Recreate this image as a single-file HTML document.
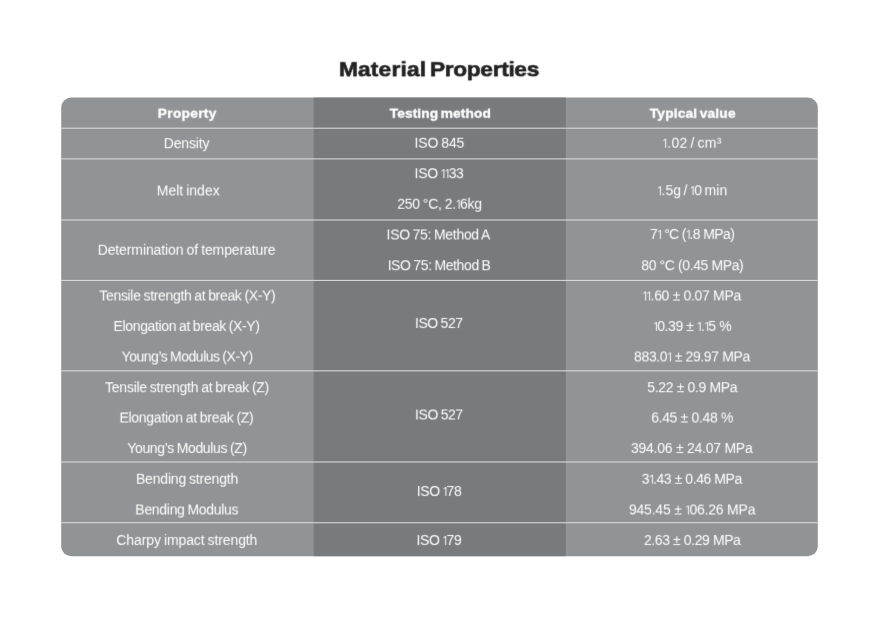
<!DOCTYPE html>
<html lang="en"><head><meta charset="utf-8"><title>Material Properties</title>
<style>
html,body{margin:0;padding:0;background:#fff;}
body{width:880px;height:618px;position:relative;overflow:hidden;font-family:"Liberation Sans", Arial, Helvetica, sans-serif;}
.bg{position:absolute;left:0;top:0;display:block;}
.t{position:absolute;white-space:nowrap;line-height:20px;margin:0;}
.title{font-size:21.0px;font-weight:700;color:#222222;-webkit-text-stroke:0.6px #222222;}
.head{font-size:13.7px;font-weight:700;color:#ffffff;-webkit-text-stroke:0.35px #ffffff;}
.cell{font-size:14.0px;font-weight:400;color:#ffffff;}
.cell i{font-style:normal;font-family:"NanumGothic","Liberation Sans",sans-serif;font-size:13.2px;margin:0 -2.45px 0 -1.25px;}
h1{margin:0;font-size:inherit;font-weight:inherit;}
table,thead,tbody,tr,th,td{display:contents;}
td br{display:none;}
.q0{filter:url(#f0);} .q1{filter:url(#f1);} .q2{filter:url(#f2);} .q3{filter:url(#f3);}
</style></head>
<body>
<svg class="bg" width="880" height="618" viewBox="0 0 880 618">
<rect x="61.2" y="97.6" width="756.60" height="458.60" rx="10" ry="10" fill="#909496"/>
<rect x="313.7" y="97.6" width="252.10" height="458.60" fill="#777b7e"/>
<line x1="61.2" x2="817.8" y1="128.2" y2="128.2" stroke="#e0e0e3" stroke-width="1.0"/>
<line x1="61.2" x2="817.8" y1="158.9" y2="158.9" stroke="#e0e0e3" stroke-width="1.0"/>
<line x1="61.2" x2="817.8" y1="220.0" y2="220.0" stroke="#e0e0e3" stroke-width="1.0"/>
<line x1="61.2" x2="817.8" y1="280.4" y2="280.4" stroke="#e0e0e3" stroke-width="1.0"/>
<line x1="61.2" x2="817.8" y1="370.85" y2="370.85" stroke="#e0e0e3" stroke-width="1.0"/>
<line x1="61.2" x2="817.8" y1="462.0" y2="462.0" stroke="#e0e0e3" stroke-width="1.0"/>
<line x1="61.2" x2="817.8" y1="522.75" y2="522.75" stroke="#e0e0e3" stroke-width="1.0"/>
<defs><filter id="f0" x="-2%" y="-20%" width="104%" height="140%" color-interpolation-filters="sRGB"><feConvolveMatrix order="3" kernelMatrix="0.0100 0.0800 0.0100 0.0800 0.6400 0.0800 0.0100 0.0800 0.0100" divisor="1" edgeMode="none" preserveAlpha="false"/></filter><filter id="f1" x="-2%" y="-20%" width="104%" height="140%" color-interpolation-filters="sRGB"><feConvolveMatrix order="3" kernelMatrix="0.0006 0.0048 0.0006 0.0738 0.5904 0.0738 0.0256 0.2048 0.0256" divisor="1" edgeMode="none" preserveAlpha="false"/></filter><filter id="f2" x="-2%" y="-20%" width="104%" height="140%" color-interpolation-filters="sRGB"><feConvolveMatrix order="3" kernelMatrix="0.0000 0.0000 0.0000 0.0500 0.4000 0.0500 0.0500 0.4000 0.0500" divisor="1" edgeMode="none" preserveAlpha="false"/></filter><filter id="f3" x="-2%" y="-20%" width="104%" height="140%" color-interpolation-filters="sRGB"><feConvolveMatrix order="3" kernelMatrix="0.0256 0.2048 0.0256 0.0738 0.5904 0.0738 0.0006 0.0048 0.0006" divisor="1" edgeMode="none" preserveAlpha="false"/></filter></defs>
</svg>
<h1><span class="t title q1" style="left:338.90px;top:59.00px;letter-spacing:0.169px;transform:scaleX(1.08);transform-origin:0 0">Material</span> <span class="t title q1" style="left:430.40px;top:59.00px;letter-spacing:-0.299px;transform:scaleX(1.08);transform-origin:0 0">Properties</span></h1>
<table>
<thead>
<tr><th><span class="t head q3" style="left:157.83px;top:104.00px;letter-spacing:0.304px;word-spacing:-1.5px">Property</span></th><th><span class="t head q3" style="left:389.67px;top:104.00px;letter-spacing:0.135px;word-spacing:-1.5px">Testing method</span></th><th><span class="t head q3" style="left:649.84px;top:104.00px;letter-spacing:0.187px;word-spacing:-1.5px">Typical value</span></th></tr>
</thead>
<tbody>
<tr>
<td><span class="t cell q1" style="left:163.74px;top:133.00px;letter-spacing:-0.143px;word-spacing:-0.7px">Density</span></td>
<td><span class="t cell q3" style="left:414.55px;top:133.00px;letter-spacing:-0.138px;word-spacing:-0.7px">ISO 845</span></td>
<td><span class="t cell q3" style="left:662.59px;top:133.00px;letter-spacing:0.351px;word-spacing:-1.5px"><i>1</i>.02 / cm³</span></td>
</tr>
<tr>
<td><span class="t cell q2" style="left:156.82px;top:180.00px;letter-spacing:-0.032px;word-spacing:-0.7px">Melt index</span></td>
<td><span class="t cell q1" style="left:414.57px;top:163.00px;letter-spacing:-0.309px;word-spacing:-0.7px">ISO <i>1</i><i>1</i>33</span><br><span class="t cell q3" style="left:397.24px;top:194.00px;letter-spacing:-0.234px;word-spacing:-0.7px">250 °C, 2.<i>1</i>6kg</span></td>
<td><span class="t cell q1" style="left:657.13px;top:180.00px;letter-spacing:0.052px;word-spacing:-1.5px"><i>1</i>.5g / <i>1</i>0 min</span></td>
</tr>
<tr>
<td><span class="t cell q3" style="left:97.64px;top:240.00px;letter-spacing:-0.100px;word-spacing:-0.7px">Determination of temperature</span></td>
<td><span class="t cell q2" style="left:386.57px;top:224.00px;letter-spacing:-0.313px;word-spacing:-0.7px">ISO 75: Method A</span><br><span class="t cell q1" style="left:387.64px;top:255.00px;letter-spacing:-0.392px;word-spacing:-0.7px">ISO 75: Method B</span></td>
<td><span class="t cell q0" style="left:650.03px;top:224.00px;letter-spacing:-0.625px">7<i>1</i> °C (<i>1</i>.8 MPa)</span><br><span class="t cell q1" style="left:641.24px;top:255.00px;letter-spacing:-0.384px">80 °C (0.45 MPa)</span></td>
</tr>
<tr>
<td><span class="t cell q2" style="left:99.32px;top:285.00px;letter-spacing:-0.328px;word-spacing:-0.7px">Tensile strength at break (X-Y)</span><br><span class="t cell q0" style="left:113.60px;top:316.00px;letter-spacing:-0.362px;word-spacing:-0.7px">Elongation at break (X-Y)</span><br><span class="t cell q2" style="left:121.57px;top:346.00px;letter-spacing:-0.474px;word-spacing:-0.7px">Young’s Modulus (X-Y)</span></td>
<td><span class="t cell q0" style="left:415.01px;top:313.00px;letter-spacing:-0.428px;word-spacing:-0.7px">ISO 527</span></td>
<td><span class="t cell q2" style="left:642.62px;top:285.00px;letter-spacing:-0.323px"><i>1</i><i>1</i>.60 ± 0.07 MPa</span><br><span class="t cell q0" style="left:653.35px;top:316.00px;letter-spacing:-0.416px"><i>1</i>0.39 ± <i>1</i>.<i>1</i>5 %</span><br><span class="t cell q2" style="left:634.12px;top:346.00px;letter-spacing:-0.376px">883.0<i>1</i> ± 29.97 MPa</span></td>
</tr>
<tr>
<td><span class="t cell q1" style="left:105.11px;top:377.00px;letter-spacing:-0.262px;word-spacing:-0.7px">Tensile strength at break (Z)</span><br><span class="t cell q2" style="left:119.43px;top:407.00px;letter-spacing:-0.271px;word-spacing:-0.7px">Elongation at break (Z)</span><br><span class="t cell q0" style="left:127.33px;top:438.00px;letter-spacing:-0.360px;word-spacing:-0.7px">Young’s Modulus (Z)</span></td>
<td><span class="t cell q2" style="left:415.12px;top:404.00px;letter-spacing:-0.440px;word-spacing:-0.7px">ISO 527</span></td>
<td><span class="t cell q1" style="left:647.37px;top:377.00px;letter-spacing:-0.358px">5.22 ± 0.9 MPa</span><br><span class="t cell q2" style="left:651.18px;top:407.00px;letter-spacing:-0.340px">6.45 ± 0.48 %</span><br><span class="t cell q0" style="left:631.00px;top:438.00px;letter-spacing:-0.254px">394.06 ± 24.07 MPa</span></td>
</tr>
<tr>
<td><span class="t cell q3" style="left:135.97px;top:469.00px;letter-spacing:-0.194px;word-spacing:-0.7px">Bending strength</span><br><span class="t cell q2" style="left:135.36px;top:499.00px;letter-spacing:-0.308px;word-spacing:-0.7px">Bending Modulus</span></td>
<td><span class="t cell q0" style="left:416.64px;top:481.00px;letter-spacing:-0.328px;word-spacing:-0.7px">ISO <i>1</i>78</span></td>
<td><span class="t cell q3" style="left:641.81px;top:469.00px;letter-spacing:-0.434px">3<i>1</i>.43 ± 0.46 MPa</span><br><span class="t cell q2" style="left:628.95px;top:499.00px;letter-spacing:-0.209px">945.45 ± <i>1</i>06.26 MPa</span></td>
</tr>
<tr>
<td><span class="t cell q0" style="left:116.35px;top:530.00px;letter-spacing:-0.108px;word-spacing:-0.7px">Charpy impact strength</span></td>
<td><span class="t cell q0" style="left:416.57px;top:530.00px;letter-spacing:-0.334px;word-spacing:-0.7px">ISO <i>1</i>79</span></td>
<td><span class="t cell q0" style="left:643.89px;top:530.00px;letter-spacing:-0.400px">2.63 ± 0.29 MPa</span></td>
</tr>
</tbody>
</table>
</body></html>
